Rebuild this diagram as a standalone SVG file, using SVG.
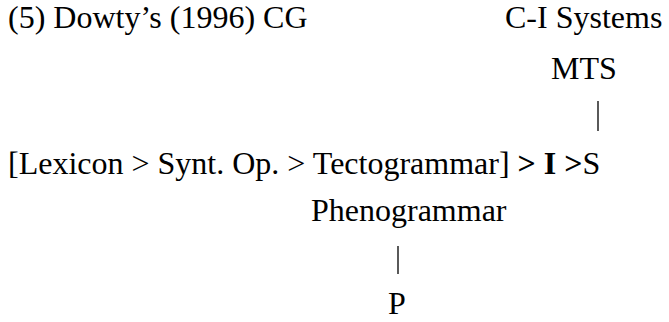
<svg xmlns="http://www.w3.org/2000/svg" width="669" height="322" viewBox="0 0 669 322">
<style>
text{font-family:"Liberation Serif","Times New Roman",serif;font-size:32px;fill:#000}
.b{font-weight:bold}
line{stroke:#000;stroke-width:1.3}
</style>
<rect width="669" height="322" fill="#fff"/>
<g id="title"><text x="8" y="28">(5) Dowty’s (1996) CG</text></g>
<g id="ci"><text x="505" y="28">C-I Systems</text></g>
<g id="mts"><text x="551" y="79">MTS</text></g>
<g id="main"><text x="8" y="174">[Lexicon &gt; Synt. Op. &gt; Tectogrammar] <tspan class="b">&gt; I &gt;</tspan>S</text></g>
<g id="pheno"><text x="311" y="221">Phenogrammar</text></g>
<g id="p"><text x="388" y="314">P</text></g>
<g id="connectors">
<line x1="598" y1="101" x2="598" y2="131"/>
<line x1="398" y1="246" x2="398" y2="274"/>
</g>
</svg>
